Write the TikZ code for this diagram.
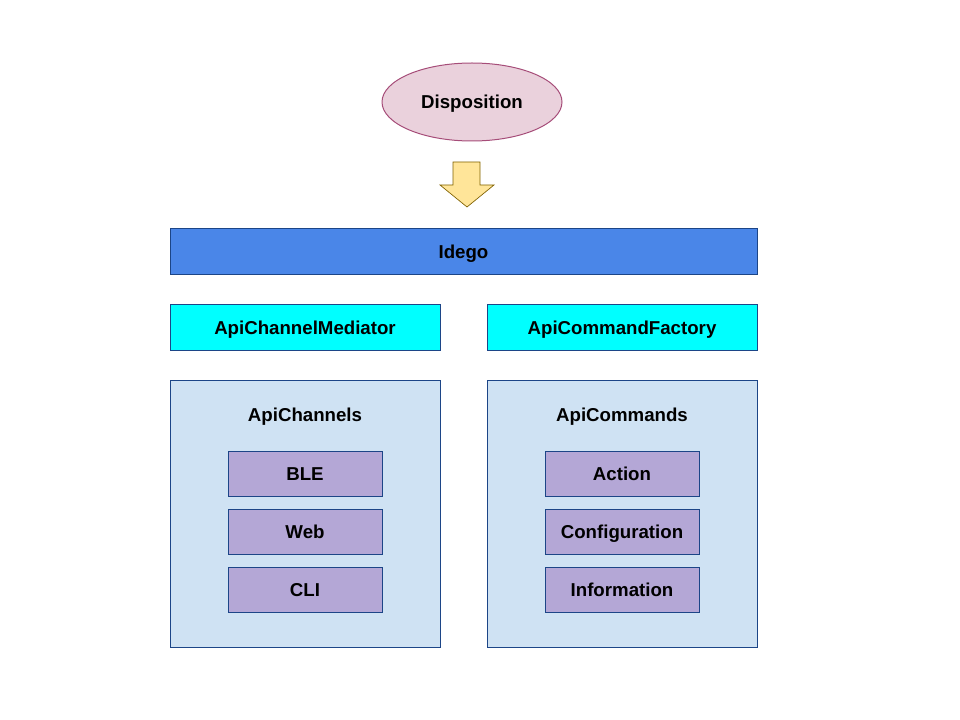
\documentclass[tikz,border=0pt]{standalone}
\usepackage{fontspec}
\setmainfont{Liberation Sans}
\usetikzlibrary{shapes.geometric}

\definecolor{pinkfill}{HTML}{EAD1DC}
\definecolor{pinkline}{HTML}{A64D79}
\definecolor{yellowfill}{HTML}{FFE599}
\definecolor{yellowline}{HTML}{7F6000}
\definecolor{bluefill}{HTML}{4A86E8}
\definecolor{cyanfill}{HTML}{00FFFF}
\definecolor{paleblue}{HTML}{CFE2F3}
\definecolor{purplefill}{HTML}{B4A7D6}
\definecolor{boxline}{HTML}{1C4587}

\begin{document}
\begin{tikzpicture}[x=0.75pt,y=-0.75pt,
  every node/.style={font=\bfseries\fontsize{14}{16}\selectfont, inner sep=0pt,
    text height=10pt, text depth=0pt},
  box/.style={draw=boxline, line width=0.75pt},
  wide/.style={box, minimum width=202.5pt, minimum height=33.75pt},
  group/.style={box, fill=paleblue, minimum width=202.5pt, minimum height=200.25pt},
  item/.style={box, fill=purplefill, minimum width=115.5pt, minimum height=33.75pt}]
  \useasboundingbox (0,0) rectangle (960,720);

  \node[draw=pinkline, line width=0.75pt, fill=pinkfill, ellipse,
        minimum width=135pt, minimum height=58.5pt] at (472, 102) (disposition) {Disposition};

  \draw[draw=yellowline, line width=0.5pt, fill=yellowfill]
    (453,162) -- (480,162) -- (480,185) -- (494,185) -- (467,207)
    -- (440,185) -- (453,185) -- cycle;

  \node[box, fill=bluefill, minimum width=440.25pt, minimum height=34.5pt] at (463.5, 252) (idego) {Idego};

  \node[wide, fill=cyanfill] at (305, 327.5) (mediator) {ApiChannelMediator};
  \node[wide, fill=cyanfill] at (622, 327.5) (factory) {ApiCommandFactory};

  \node[group] at (305, 513.5) (channels) {};
  \node[group] at (622, 513.5) (commands) {};

  \node at (305, 415) (channelstitle) {ApiChannels};
  \node at (622, 415) (commandstitle) {ApiCommands};

  \node[item] at (305, 474) (ble) {BLE};
  \node[item] at (305, 532) (web) {Web};
  \node[item] at (305, 590) (cli) {CLI};

  \node[item] at (622, 474) (action) {Action};
  \node[item] at (622, 532) (config) {Configuration};
  \node[item] at (622, 590) (info) {Information};
\end{tikzpicture}
\end{document}
